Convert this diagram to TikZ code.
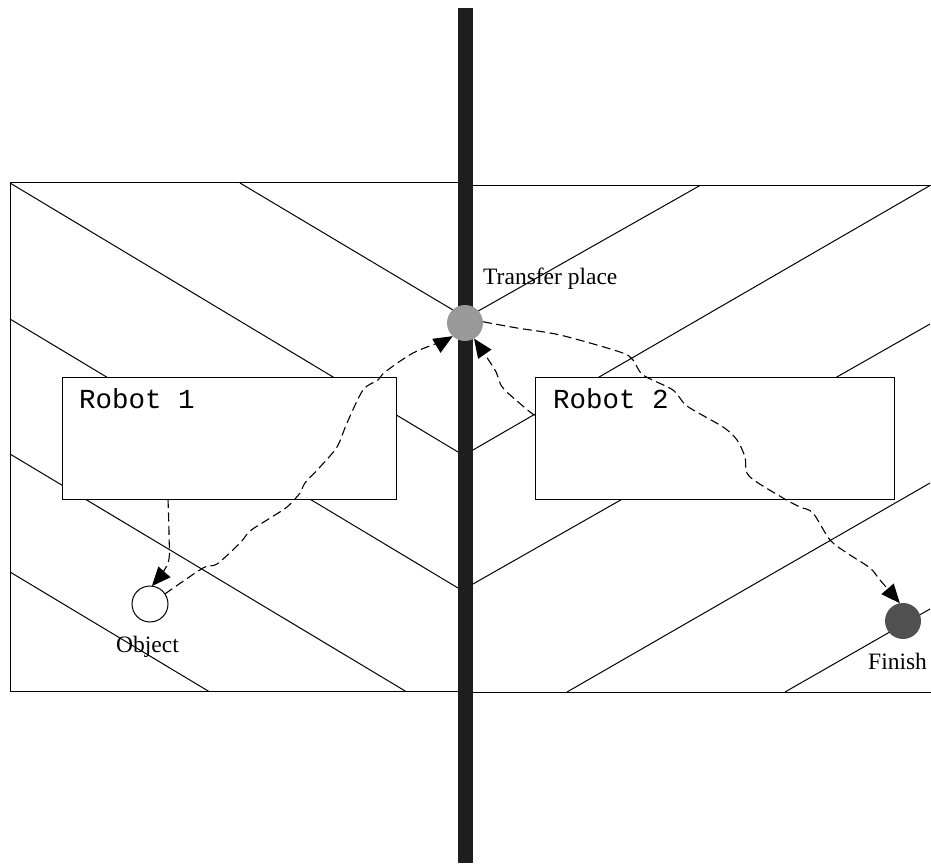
\documentclass[tikz,border=0pt]{standalone}
\usepackage{fontspec}
\setmainfont{Liberation Serif}
\setmonofont{Liberation Mono}
\usetikzlibrary{arrows.meta}
\definecolor{barc}{HTML}{1E1E1E}
\definecolor{tpgray}{HTML}{999999}
\definecolor{fingray}{HTML}{505050}
\begin{document}
\begin{tikzpicture}[x=1pt,y=-1pt,
  hatch/.style={line width=1pt},
  frame/.style={line width=1pt},
  robotbox/.style={draw, line width=1pt, fill=white, anchor=north west, inner sep=0pt, outer sep=0pt, minimum height=122pt},
  robotlabel/.style={font=\fontsize{27.5}{30}\selectfont\ttfamily, anchor=base west, inner sep=0pt},
  lbl/.style={font=\fontsize{23.5}{26}\selectfont, anchor=base west, inner sep=0pt},
  route/.style={line width=1.1pt, dash pattern=on 9pt off 4.5pt, -{Triangle[length=19pt,width=16pt]}},
  spot/.style={circle, minimum size=36pt, inner sep=0pt, outer sep=0pt}]
\useasboundingbox (0,0) rectangle (931,866);
% hatch lines left
\draw[hatch] (10,183) -- (458,452);
\draw[hatch] (240,183) -- (458,313);
\draw[hatch] (10,319) -- (458,588);
\draw[hatch] (10,454) -- (406,691.5);
\draw[hatch] (10,572) -- (209,691.5);
% hatch lines right
\draw[hatch] (473,314) -- (700,185.5);
\draw[hatch] (473,450) -- (930,185.5);
\draw[hatch] (473,584) -- (930,324);
\draw[hatch] (567,692) -- (930,483);
\draw[hatch] (785,692) -- (930,609);
% frames
\draw[frame] (458,183) -- (10,183) -- (10,691.5) -- (458,691.5);
\draw[frame] (473,185.5) -- (931,185.5);
\draw[frame] (473,692) -- (931,692);
% robot boxes
\node[robotbox, minimum width=334pt] (r1) at (62,377) {};
\node[robotbox, minimum width=359pt] (r2) at (535,377) {};
\node[robotlabel] (r1t) at (79,408) {Robot 1};
\node[robotlabel] (r2t) at (553,408) {Robot 2};
% wall
\node[fill=barc, inner sep=0pt, outer sep=0pt, minimum width=15pt, minimum height=855pt, anchor=north west] (wall) at (458,8) {};
% spots
\node[spot, fill=tpgray] (tp) at (465,323) {};
\node[spot, draw, fill=white, line width=1pt] (obj) at (150,604) {};
\node[spot, fill=fingray] (fin) at (903,621) {};
% labels
\node[lbl] (tpl) at (483,285) {Transfer place};
\node[lbl] (objl) at (116,652) {Object};
\node[lbl] (finl) at (868,669) {Finish};
% routes
\coordinate (a0) at (168,499);
\coordinate (c0) at (535,415);
\draw[route] plot[smooth, tension=0.55] coordinates {(a0) (169,535) (168,563) (obj.84)};
\draw[route] plot[smooth, tension=0.5] coordinates {(obj.34) (203,568) (217,564) (240,543) (250,531) (267,520) (287,507) (300,493) (305,483) (320,467) (337,447) (347,423) (363,390) (378,380) (385,372) (413,353) (443,341) (tp.227)};
\draw[route] plot[smooth, tension=0.5] coordinates {(c0) (530,412) (503,388) (495,370) (tp.300)};
\draw[route] plot[smooth, tension=0.5] coordinates {(tp.4) (517,328) (560,335) (620,352) (633,360) (643,375) (673,390) (687,406) (723,427) (737,440) (745,457) (749,476) (783,498) (800,507) (813,513) (830,540) (847,553) (870,568) (880,580) (fin.100)};
\end{tikzpicture}
\end{document}
